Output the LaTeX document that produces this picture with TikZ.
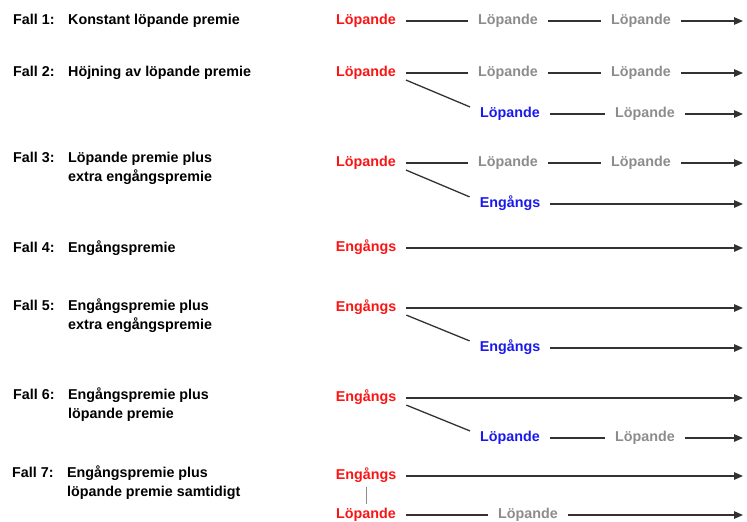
\documentclass[tikz,border=0pt]{standalone}
\usepackage{fontspec}
\setmainfont{Liberation Sans}
\usepackage{xcolor}
\usetikzlibrary{arrows.meta,positioning}

\definecolor{startred}{RGB}{250,20,20}
\definecolor{extrablue}{RGB}{25,25,235}
\definecolor{latergray}{RGB}{140,140,140}
\definecolor{linegray}{RGB}{50,50,50}

\begin{document}
\begin{tikzpicture}[
	x=1pt, y=-1pt,
	every node/.style={font=\fontsize{14.3}{19}\selectfont\bfseries},
	fall/.style={anchor=west, inner sep=0pt, text height=10pt, text depth=3pt},
	desc/.style={anchor=west, align=left, inner sep=0pt},
	line1/.style={desc, text height=10pt, text depth=3pt},
	tag/.style={inner xsep=10pt, inner ysep=4pt, text height=10pt, text depth=3pt},
	start/.style={tag, text=startred},
	extra/.style={tag, text=extrablue},
	later/.style={tag, text=latergray},
	link/.style={draw=linegray, line width=1.3pt},
	flow/.style={link, -{Triangle[length=9pt,width=7.5pt]}}
	]
	
	\useasboundingbox (0,0) rectangle (747,522);
	
	% Fall 1
	\node[fall] (f1) at (13,21) {Fall 1:};
	\node[line1] (t1) at (68,21) {Konstant löpande premie};
	\node[start] (s1) at (366,21) {Löpande};
	\node[later] (l1a) at (508,21) {Löpande};
	\node[later] (l1b) at (641,21) {Löpande};
	\coordinate (e1) at (743,21);
	\draw[link] (s1) -- (l1a);
	\draw[link] (l1a) -- (l1b);
	\draw[flow] (l1b) -- (e1);
	
	% Fall 2
	\node[fall] (f2) at (13,73) {Fall 2:};
	\node[line1] (t2) at (68,73) {Höjning av löpande premie};
	\node[start] (s2) at (366,73) {Löpande};
	\node[later] (l2a) at (508,73) {Löpande};
	\node[later] (l2b) at (641,73) {Löpande};
	\coordinate (e2) at (743,73);
	\draw[link] (s2) -- (l2a);
	\draw[link] (l2a) -- (l2b);
	\draw[flow] (l2b) -- (e2);
	\node[extra] (x2) at (510,114) {Löpande};
	\node[later] (l2c) at (645,114) {Löpande};
	\coordinate (e2b) at (743,114);
	\draw[link] (s2.-10) -- (x2.170);
	\draw[link] (x2) -- (l2c);
	\draw[flow] (l2c) -- (e2b);
	
	% Fall 3
	\node[fall] (f3) at (13,159) {Fall 3:};
	\node[desc] (t3) at (68,168.5) {Löpande premie plus\\extra engångspremie};
	\node[start] (s3) at (366,163) {Löpande};
	\node[later] (l3a) at (508,163) {Löpande};
	\node[later] (l3b) at (641,163) {Löpande};
	\coordinate (e3) at (743,163);
	\draw[link] (s3) -- (l3a);
	\draw[link] (l3a) -- (l3b);
	\draw[flow] (l3b) -- (e3);
	\node[extra] (x3) at (510,204) {Engångs};
	\coordinate (e3b) at (743,204);
	\draw[link] (s3.-10) -- (x3.170);
	\draw[flow] (x3) -- (e3b);
	
	% Fall 4
	\node[fall] (f4) at (13,249) {Fall 4:};
	\node[line1] (t4) at (68,249) {Engångspremie};
	\node[start] (s4) at (366,248) {Engångs};
	\coordinate (e4) at (743,248);
	\draw[flow] (s4) -- (e4);
	
	% Fall 5
	\node[fall] (f5) at (13,307) {Fall 5:};
	\node[desc] (t5) at (68,316) {Engångspremie plus\\extra engångspremie};
	\node[start] (s5) at (366,308) {Engångs};
	\coordinate (e5) at (743,308);
	\draw[flow] (s5) -- (e5);
	\node[extra] (x5) at (510,348) {Engångs};
	\coordinate (e5b) at (743,348);
	\draw[link] (s5.-10) -- (x5.170);
	\draw[flow] (x5) -- (e5b);
	
	% Fall 6
	\node[fall] (f6) at (13,396) {Fall 6:};
	\node[desc] (t6) at (68,405) {Engångspremie plus\\löpande premie};
	\node[start] (s6) at (366,398) {Engångs};
	\coordinate (e6) at (743,398);
	\draw[flow] (s6) -- (e6);
	\node[extra] (x6) at (510,438) {Löpande};
	\node[later] (l6) at (645,438) {Löpande};
	\coordinate (e6b) at (743,438);
	\draw[link] (s6.-10) -- (x6.170);
	\draw[link] (x6) -- (l6);
	\draw[flow] (l6) -- (e6b);
	
	% Fall 7
	\node[fall] (f7) at (12,474) {Fall 7:};
	\node[desc] (t7) at (67,483) {Engångspremie plus\\löpande premie samtidigt};
	\node[start] (s7) at (366,476) {Engångs};
	\coordinate (e7) at (743,476);
	\draw[flow] (s7) -- (e7);
	\node[start] (s7b) at (366,515) {Löpande};
	\node[later] (l7) at (528,515) {Löpande};
	\coordinate (e7b) at (743,515);
	\draw[link, line width=1pt, draw=latergray] (s7) -- (s7b);
	\draw[link] (s7b) -- (l7);
	\draw[flow] (l7) -- (e7b);
	
\end{tikzpicture}
\end{document}
